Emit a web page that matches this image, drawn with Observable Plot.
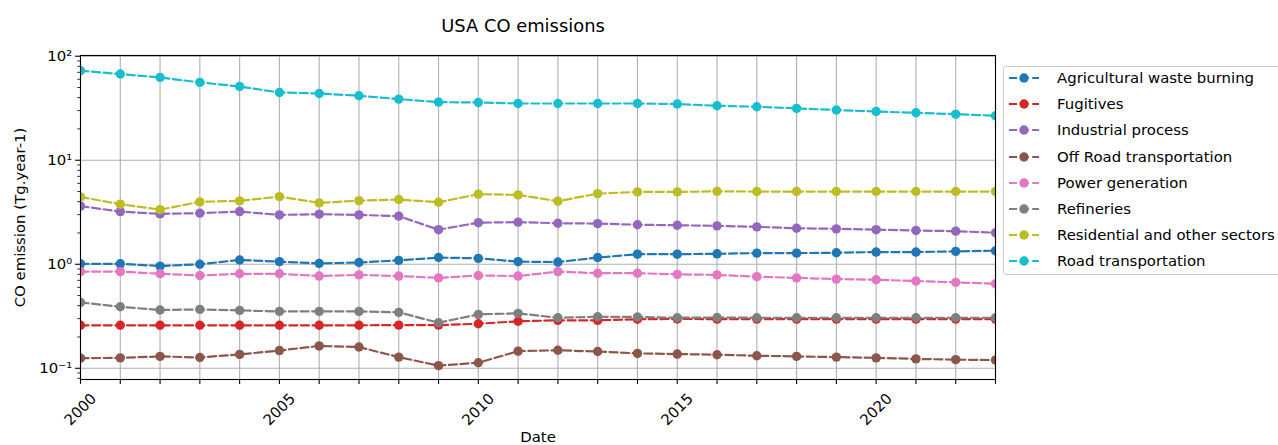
<!DOCTYPE html>
<html>
<head>
<meta charset="utf-8">
<script src="https://cdn.jsdelivr.net/npm/d3@7"></script>
<script src="https://cdn.jsdelivr.net/npm/@observablehq/plot@0.6"></script>
<style>
  body { margin: 0; background: white; font-family: "DejaVu Sans", sans-serif; }
  #wrap { position: relative; width: 1278px; height: 445px; overflow: hidden; }
  #legend { position: absolute; left: 1003px; top: 65.5px; width: 300px; height: 209px;
            border: 1px solid #cccccc; border-radius: 3px; background: rgba(255,255,255,0.8); box-sizing: border-box; }
  .row { position: absolute; left: 0; height: 20px; }
  .row svg { position: absolute; left: 5px; top: 4px; }
  .row span { position: absolute; left: 53px; white-space: nowrap; font-size: 14.9px; color: #000; line-height: 20px; top: 0; }
</style>
</head>
<body>
<div id="wrap"><div id="chart"></div><div id="legend"></div></div>
<script>
const years = d3.range(2000, 2024);
const xTickLabels = [2000, 2005, 2010, 2015, 2020];
const yMajorTicks = [0.1, 1, 10, 100];
const yMajorLabels = ["10\u207B\u00B9", "10\u2070", "10\u00B9", "10\u00B2"];

const seriesNames = [
  "Agricultural waste burning",
  "Fugitives",
  "Industrial process",
  "Off Road transportation",
  "Power generation",
  "Refineries",
  "Residential and other sectors",
  "Road transportation"
];
const seriesColors = ["#1f77b4", "#d62728", "#9467bd", "#8c564b", "#e377c2", "#7f7f7f", "#bcbd22", "#17becf"];

const agricultural = [1.01,1.01,0.96,1.00,1.10,1.06,1.02,1.04,1.09,1.16,1.14,1.06,1.05,1.16,1.25,1.25,1.26,1.28,1.28,1.29,1.31,1.31,1.33,1.35];
const fugitives = [0.259,0.259,0.259,0.259,0.259,0.259,0.259,0.259,0.26,0.26,0.268,0.283,0.289,0.289,0.296,0.298,0.297,0.297,0.297,0.297,0.297,0.297,0.297,0.297];
const industrial = [3.62,3.21,3.05,3.10,3.21,2.98,3.03,2.98,2.90,2.15,2.51,2.54,2.48,2.46,2.40,2.37,2.34,2.29,2.22,2.19,2.15,2.11,2.08,2.01];
const offRoad = [0.125,0.126,0.130,0.127,0.136,0.148,0.164,0.160,0.128,0.106,0.113,0.146,0.149,0.145,0.139,0.137,0.135,0.132,0.130,0.128,0.126,0.123,0.121,0.120];
const power = [0.85,0.85,0.81,0.78,0.81,0.81,0.77,0.79,0.77,0.74,0.78,0.77,0.85,0.82,0.82,0.80,0.79,0.76,0.74,0.72,0.71,0.69,0.67,0.65];
const refineries = [0.43,0.39,0.363,0.368,0.36,0.352,0.352,0.352,0.345,0.274,0.33,0.337,0.306,0.313,0.311,0.306,0.308,0.306,0.306,0.306,0.306,0.306,0.306,0.306];
const residential = [4.44,3.78,3.35,3.98,4.07,4.47,3.89,4.09,4.19,3.95,4.72,4.64,4.04,4.78,4.96,4.96,5.02,5.0,5.0,5.0,5.0,5.0,5.0,5.0];
const road = [72.5,67.4,62.5,56,51.2,44.8,43.8,41.7,38.7,36.2,35.9,35.1,35.1,35.1,35.1,34.7,33.4,32.7,31.5,30.4,29.4,28.6,27.7,26.8];

const seriesValues = [agricultural, fugitives, industrial, offRoad, power, refineries, residential, road];

const minorTicks = [];
for (const p of [-2, -1, 0, 1]) for (let k = 2; k <= 9; k++) minorTicks.push(k * Math.pow(10, p));

const dash = "8.1,3.5";
const lineW = 2.2;
const dotR = 4.7;
const seriesMarks = [];
seriesNames.forEach((name, i) => {
  const rows = years.map((yr, j) => ({year: yr, value: seriesValues[i][j], series: name}));
  seriesMarks.push(Plot.line(rows, {x: "year", y: "value", stroke: seriesColors[i], strokeWidth: lineW, strokeDasharray: dash, clip: true}));
  seriesMarks.push(Plot.dot(rows, {x: "year", y: "value", fill: seriesColors[i], r: dotR, stroke: "none", clip: true}));
});

const gridStyle = {stroke: "#b0b0b0", strokeOpacity: 1, strokeWidth: 1.1};

const chart = Plot.plot({
  width: 1278,
  height: 445,
  marginLeft: 80,
  marginRight: 283,
  marginTop: 55,
  marginBottom: 66,
  style: {fontFamily: "DejaVu Sans", fontSize: "14.9px", background: "white", color: "black"},
  x: {domain: [2000, 2023], axis: null},
  y: {type: "log", domain: [0.078, 101.6], axis: null},
  marks: [
    Plot.gridX(years, gridStyle),
    Plot.gridY(yMajorTicks, gridStyle),
    ...seriesMarks,
    Plot.axisX(years, {tickSize: 4.9, tickFormat: () => "", strokeWidth: 1.1, stroke: "black", label: null}),
    Plot.text(xTickLabels, {x: d => d, frameAnchor: "bottom", dy: 30, rotate: -45, text: d => String(d), fontSize: 14.9, textAnchor: "middle", lineAnchor: "middle", fill: "black"}),
    Plot.axisY(yMajorTicks, {tickSize: 4.9, tickPadding: 3.5, strokeWidth: 1.1, stroke: "black", fontSize: 14.9, label: null, tickFormat: d => yMajorLabels[yMajorTicks.indexOf(d)]}),
    Plot.axisY(minorTicks.filter(v => v > 0.078 && v < 101.6), {tickSize: 2.8, tickFormat: () => "", strokeWidth: 0.8, stroke: "black", label: null}),
    Plot.frame({stroke: "black", strokeWidth: 1.1}),
    Plot.text(["USA CO emissions"], {frameAnchor: "top", dx: -15, dy: -36, text: d => d, fontSize: 17.9, fill: "black"}),
    Plot.text(["Date"], {frameAnchor: "bottom", dy: 62, text: d => d, fontSize: 14.9, fill: "black"}),
    Plot.text(["CO emission (Tg.year-1)"], {frameAnchor: "left", dx: -60, rotate: -90, textAnchor: "middle", text: d => d, fontSize: 14.9, fill: "black"})
  ]
});
document.getElementById("chart").appendChild(chart);

// Legend
const legend = d3.select("#legend");
seriesNames.forEach((name, i) => {
  const row = legend.append("div").attr("class", "row").style("top", (1.5 + i * 26.2) + "px");
  const svg = row.append("svg").attr("width", 32).attr("height", 12);
  svg.append("line").attr("x1", 0).attr("x2", 30).attr("y1", 6).attr("y2", 6)
    .attr("stroke", seriesColors[i]).attr("stroke-width", lineW).attr("stroke-dasharray", dash);
  svg.append("circle").attr("cx", 15).attr("cy", 6).attr("r", dotR).attr("fill", seriesColors[i]);
  row.append("span").text(name);
});
</script>
</body>
</html>
